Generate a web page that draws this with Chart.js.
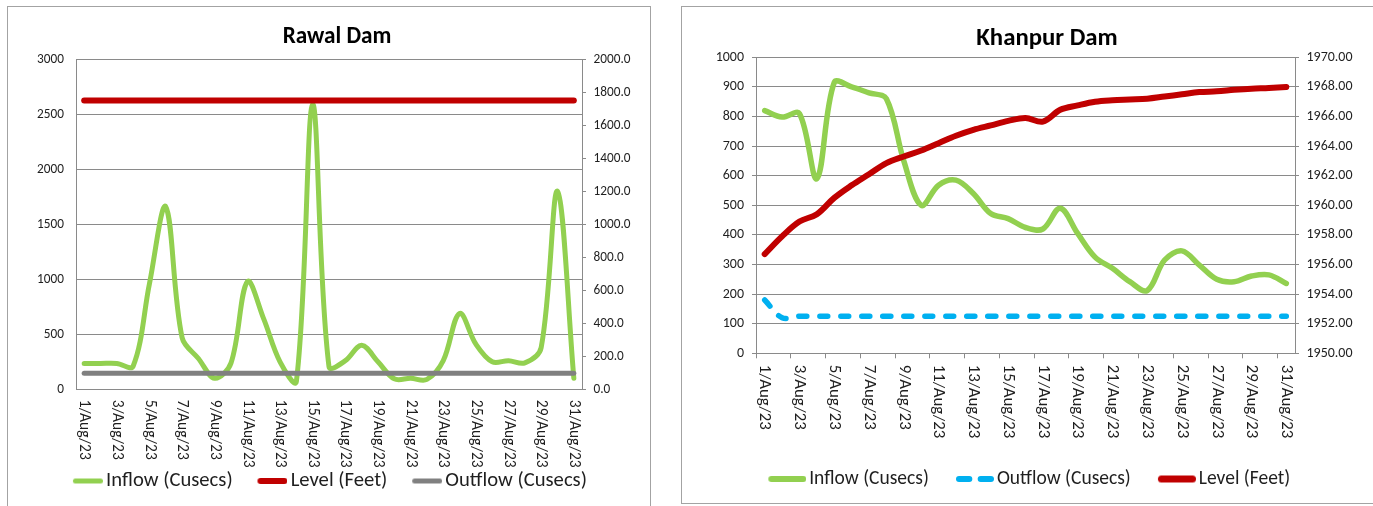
<!DOCTYPE html>
<html>
<head>
<meta charset="utf-8">
<title>Rawal Dam and Khanpur Dam, August 2023</title>
<script src="https://cdn.jsdelivr.net/npm/chart.js@4.4.1/dist/chart.umd.min.js"></script>
<style>
  html, body { margin: 0; padding: 0; background: #ffffff; }
  body { width: 1373px; height: 506px; position: relative; overflow: hidden; }
  canvas { position: absolute; top: 0; }
  #rawal { left: 0; }
  #khanpur { left: 666px; }
  .frame { position: absolute; border: 1px solid #a3a3a3; pointer-events: none; }
  #frameRawal { left: 7px; top: 6px; width: 642px; height: 540px; }
  #frameKhanpur { left: 681px; top: 6px; width: 720px; height: 496px; }
</style>
</head>
<body>
<canvas id="rawal" width="666" height="506"></canvas>
<canvas id="khanpur" width="730" height="506"></canvas>
<div class="frame" id="frameRawal"></div>
<div class="frame" id="frameKhanpur"></div>
<script>
// ---- data -------------------------------------------------------------
const categories = [
  '1/Aug/23', '2/Aug/23', '3/Aug/23', '4/Aug/23', '5/Aug/23', '6/Aug/23', '7/Aug/23', '8/Aug/23',
  '9/Aug/23', '10/Aug/23', '11/Aug/23', '12/Aug/23', '13/Aug/23', '14/Aug/23', '15/Aug/23', '16/Aug/23',
  '17/Aug/23', '18/Aug/23', '19/Aug/23', '20/Aug/23', '21/Aug/23', '22/Aug/23', '23/Aug/23', '24/Aug/23',
  '25/Aug/23', '26/Aug/23', '27/Aug/23', '28/Aug/23', '29/Aug/23', '30/Aug/23', '31/Aug/23'
];

const rawalInflow = [235, 235, 235, 210, 960, 1660, 470, 280, 100, 240, 980, 640, 250, 70, 2590, 205,
                     260, 400, 250, 95, 100, 90, 260, 690, 410, 250, 260, 240, 380, 1800, 100];
const rawalLevel = [1750, 1750, 1750, 1750, 1750, 1750, 1750, 1750, 1750, 1750, 1750, 1750, 1750, 1750, 1750, 1750,
                    1750, 1750, 1750, 1750, 1750, 1750, 1750, 1750, 1750, 1750, 1750, 1750, 1750, 1750, 1750];
const rawalOutflow = [145, 145, 145, 145, 145, 145, 145, 145, 145, 145, 145, 145, 145, 145, 145, 145,
                      145, 145, 145, 145, 145, 145, 145, 145, 145, 145, 145, 145, 145, 145, 145];
const rawalFlowTicks = [0, 500, 1000, 1500, 2000, 2500, 3000];
const rawalLevelTicks = [0, 200, 400, 600, 800, 1000, 1200, 1400, 1600, 1800, 2000];

const khanpurInflow = [820, 798, 810, 590, 915, 900, 880, 860, 650, 500, 568, 585, 540, 472, 455, 425,
                       420, 490, 405, 325, 287, 242, 212, 315, 346, 298, 250, 242, 261, 265, 236];
const khanpurOutflow = [180, 120, 125, 125, 125, 125, 125, 125, 125, 125, 125, 125, 125, 125, 125, 125,
                        125, 125, 125, 125, 125, 125, 125, 125, 125, 125, 125, 125, 125, 125, 125];
const khanpurLevel = [1956.7, 1957.9, 1958.9, 1959.4, 1960.5, 1961.35, 1962.1, 1962.85, 1963.3, 1963.7, 1964.2,
                      1964.7, 1965.1, 1965.4, 1965.7, 1965.9, 1965.65, 1966.45, 1966.75, 1967.0, 1967.1,
                      1967.15, 1967.2, 1967.35, 1967.5, 1967.65, 1967.7, 1967.8, 1967.88, 1967.93, 1968.0];
const khanpurFlowTicks = [0, 100, 200, 300, 400, 500, 600, 700, 800, 900, 1000];
const khanpurLevelTicks = [1950, 1952, 1954, 1956, 1958, 1960, 1962, 1964, 1966, 1968, 1970];

// ---- styling ----------------------------------------------------------
const GREEN = '#92d050';
const RED = '#c00000';
const GREY = '#808080';
const BLUE = '#00b0f0';
const RULE = '#8a8a8a';
const INK = '#1f1f1f';

// Pick a narrow sans face that is actually installed.
const probe = document.createElement('canvas').getContext('2d');
function hasFont(name) {
  const sample = 'mmmwwwlliI10/.(Cusecs)Aug';
  return ['monospace', 'serif'].some(fb => {
    probe.font = `40px ${fb}`;
    const a = probe.measureText(sample).width;
    probe.font = `40px "${name}", ${fb}`;
    const b = probe.measureText(sample).width;
    return Math.abs(a - b) > 0.5;
  });
}
const FACE = ['Carlito', 'Liberation Sans Narrow', 'Arial Narrow', 'DejaVu Sans Condensed', 'Roboto']
  .find(hasFont) || 'Liberation Sans';
const FAMILY = `"${FACE}", "Liberation Sans", Arial, sans-serif`;

function textWidth(texts, size, weight) {
  probe.font = `${weight || 'normal'} ${size}px ${FAMILY}`;
  return [].concat(texts).reduce((s, t) => s + probe.measureText(t).width, 0);
}
// Font size at which the given text(s) occupy the given width.
function sizeFor(texts, width, weight) {
  return 100 * width / textWidth(texts, 100, weight);
}

// Legend swatch: a thick round-capped stroke (two strokes when dashed),
// ending just before the label text.
function makeSwatch(color, lw, length, boxWidth, dashed) {
  const c = document.createElement('canvas');
  c.width = Math.round(2 * length - boxWidth);
  c.height = Math.ceil(lw) + 4;
  const g = c.getContext('2d');
  g.strokeStyle = color;
  g.lineWidth = lw;
  g.lineCap = 'round';
  const x0 = c.width - length;
  const y = c.height / 2;
  const parts = dashed ? [[0, 0.43], [0.57, 1]] : [[0, 1]];
  parts.forEach(([a, b]) => {
    g.beginPath();
    g.moveTo(x0 + a * length + lw / 2, y);
    g.lineTo(x0 + b * length - lw / 2, y);
    g.stroke();
  });
  return c;
}

// Category labels written top-to-bottom under every other day.
const dateLabels = {
  id: 'dateLabels',
  afterDraw(chart, args, opts) {
    const scale = chart.scales.x;
    const ctx = chart.ctx;
    ctx.save();
    ctx.font = `${opts.size}px ${FAMILY}`;
    ctx.fillStyle = opts.color;
    ctx.textAlign = 'left';
    ctx.textBaseline = 'middle';
    chart.data.labels.forEach((label, i) => {
      if (i % 2) return;
      ctx.save();
      ctx.translate(scale.getPixelForTick(i), scale.top + opts.gap);
      ctx.rotate(Math.PI / 2);
      ctx.fillText(label, 0, 0);
      ctx.restore();
    });
    ctx.restore();
  }
};

// Bold heading placed above the plot.
const damTitle = {
  id: 'damTitle',
  afterDraw(chart, args, opts) {
    const ctx = chart.ctx;
    ctx.save();
    ctx.font = `bold ${opts.size}px ${FAMILY}`;
    ctx.fillStyle = opts.color;
    ctx.textAlign = 'center';
    ctx.textBaseline = 'middle';
    ctx.fillText(opts.text, opts.x, opts.y);
    ctx.restore();
  }
};

Chart.defaults.font.family = FAMILY;
Chart.defaults.color = INK;

function buildDamChart(id, cfg) {
  const { width: W, height: H, plot } = cfg;
  const titleSize = sizeFor(cfg.title, cfg.titleWidth, 'bold');
  const legendSize = sizeFor(cfg.datasets.map(d => d.label), cfg.legendTextWidth);
  const tickSize = sizeFor(cfg.tickSample, cfg.tickSampleWidth);
  const dateSize = sizeFor('1/Aug/23', cfg.dateLength);

  // The legend row is centred on legendCenter; the plot edges are fixed.
  const padLeft = 0;
  const padRight = W - 2 * cfg.legendCenter;
  const legendHeight = legendSize + cfg.legendGap + 10;
  const padBottom = Math.max(0, H - cfg.legendY - legendSize / 2 - 10);
  const xAxisHeight = (H - plot.bottom) - padBottom - legendHeight;
  const leftAxisWidth = plot.left - padLeft;
  const rightAxisWidth = W - padRight - plot.right;
  const swatchBox = cfg.swatchLength + cfg.swatchGap - legendSize / 2;

  const tickFont = { size: tickSize, family: FAMILY };

  return new Chart(document.getElementById(id), {
    type: 'line',
    data: {
      labels: categories,
      datasets: cfg.datasets.map(d => Object.assign({
        fill: false,
        pointRadius: 0,
        pointHoverRadius: 0,
        tension: 0.35,
        borderCapStyle: 'round',
        borderJoinStyle: 'round'
      }, d))
    },
    options: {
      responsive: false,
      animation: false,
      devicePixelRatio: 1,
      events: [],
      layout: { padding: { left: padLeft, right: padRight, top: plot.top, bottom: padBottom } },
      scales: {
        x: {
          type: 'category',
          offset: true,
          grid: {
            offset: true,
            drawOnChartArea: false,
            drawTicks: cfg.xTickMarks,
            tickLength: 5,
            color: RULE,
            tickColor: c => (c.index % 2 === 0 ? RULE : 'rgba(0,0,0,0)')
          },
          border: { display: true, color: RULE, width: 1 },
          ticks: { display: false },
          afterFit: s => { s.height = xAxisHeight; }
        },
        y: {
          position: 'left',
          min: cfg.flowTicks[0],
          max: cfg.flowTicks[cfg.flowTicks.length - 1],
          afterBuildTicks: s => { s.ticks = cfg.flowTicks.map(v => ({ value: v })); },
          grid: { color: RULE, lineWidth: 1, drawTicks: cfg.leftTickMarks, tickLength: 4 },
          border: { display: true, color: RULE, width: 1 },
          ticks: {
            font: tickFont, color: INK,
            padding: cfg.leftTickMarks ? 8 : 12,
            callback: v => String(v)
          },
          afterFit: s => { s.width = leftAxisWidth; }
        },
        y1: {
          position: 'right',
          min: cfg.levelTicks[0],
          max: cfg.levelTicks[cfg.levelTicks.length - 1],
          afterBuildTicks: s => { s.ticks = cfg.levelTicks.map(v => ({ value: v })); },
          grid: { drawOnChartArea: false, drawTicks: true, tickLength: 4, color: RULE },
          border: { display: true, color: RULE, width: 1 },
          ticks: {
            font: tickFont, color: INK, padding: 7.5,
            callback: v => Number(v).toFixed(cfg.levelDecimals)
          },
          afterFit: s => { s.width = rightAxisWidth; }
        }
      },
      plugins: {
        title: { display: false },
        legend: {
          display: true,
          position: 'bottom',
          align: 'center',
          labels: {
            color: INK,
            font: { family: FAMILY, size: legendSize },
            padding: cfg.legendGap,
            usePointStyle: true,
            pointStyleWidth: swatchBox,
            generateLabels(chart) {
              const base = Chart.defaults.plugins.legend.labels.generateLabels(chart);
              return base.map(item => {
                const ds = chart.data.datasets[item.datasetIndex];
                return Object.assign({}, item, {
                  pointStyle: makeSwatch(ds.borderColor, ds.swatchWidth || ds.borderWidth,
                                         cfg.swatchLength, swatchBox, !!ds.borderDash),
                  lineWidth: 0
                });
              }).sort((a, b) => a.datasetIndex - b.datasetIndex);
            }
          }
        },
        tooltip: { enabled: false },
        dateLabels: { size: dateSize, color: INK, gap: cfg.dateGap },
        damTitle: { text: cfg.title, size: titleSize, color: '#000000', x: cfg.titleX, y: cfg.titleY }
      }
    },
    plugins: [dateLabels, damTitle]
  });
}

buildDamChart('rawal', {
  width: 666, height: 506,
  plot: { left: 76, right: 582, top: 59.3, bottom: 389.3 },
  title: 'Rawal Dam', titleWidth: 108.7, titleX: 337, titleY: 37,
  legendCenter: 330, legendY: 481, legendGap: 25, legendTextWidth: 365.1,
  swatchLength: 30, swatchGap: 3,
  tickSample: '2000.0', tickSampleWidth: 37,
  dateLength: 60, dateGap: 10.5,
  xTickMarks: false, leftTickMarks: false,
  flowTicks: rawalFlowTicks, levelTicks: rawalLevelTicks, levelDecimals: 1,
  datasets: [
    { label: 'Inflow (Cusecs)', data: rawalInflow, yAxisID: 'y', borderColor: GREEN, borderWidth: 5, order: 3 },
    { label: 'Level (Feet)', data: rawalLevel, yAxisID: 'y1', borderColor: RED, borderWidth: 6, order: 2 },
    { label: 'Outflow (Cusecs)', data: rawalOutflow, yAxisID: 'y', borderColor: GREY, borderWidth: 5, order: 1 }
  ]
});

buildDamChart('khanpur', {
  width: 730, height: 506,
  plot: { left: 90, right: 629, top: 57.3, bottom: 353.3 },
  title: 'Khanpur Dam', titleWidth: 141.5, titleX: 381, titleY: 38.5,
  legendCenter: 363.2, legendY: 479, legendGap: 27, legendTextWidth: 345.4,
  swatchLength: 38, swatchGap: 3,
  tickSample: '1970.00', tickSampleWidth: 46,
  dateLength: 65, dateGap: 11.5,
  xTickMarks: true, leftTickMarks: true,
  flowTicks: khanpurFlowTicks, levelTicks: khanpurLevelTicks, levelDecimals: 2,
  datasets: [
    { label: 'Inflow (Cusecs)', data: khanpurInflow, yAxisID: 'y', borderColor: GREEN, borderWidth: 5.5, swatchWidth: 6, order: 3 },
    { label: 'Outflow (Cusecs)', data: khanpurOutflow, yAxisID: 'y', borderColor: BLUE, borderWidth: 5.5, swatchWidth: 6,
      borderDash: [8, 13], order: 2 },
    { label: 'Level (Feet)', data: khanpurLevel, yAxisID: 'y1', borderColor: RED, borderWidth: 6, swatchWidth: 7, order: 1 }
  ]
});
</script>
</body>
</html>
